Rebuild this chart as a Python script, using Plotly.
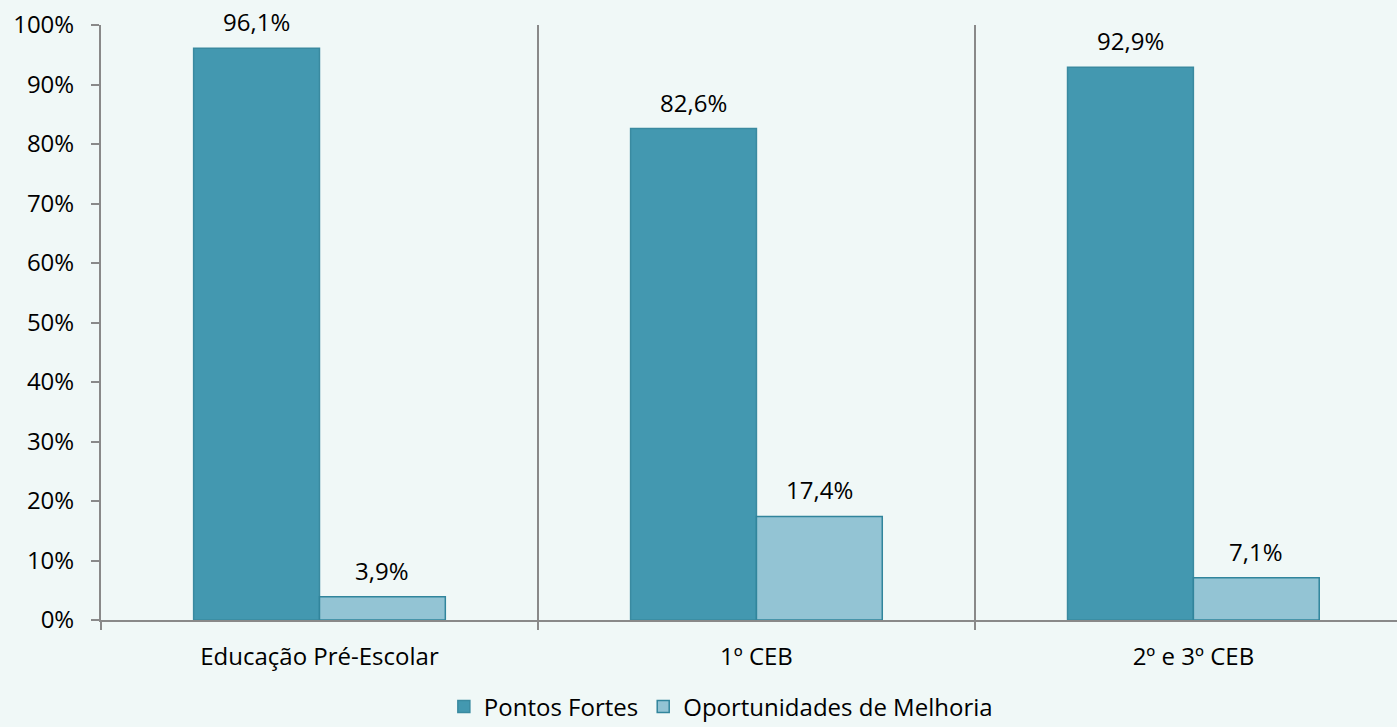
import plotly.graph_objects as go

categories = ["Educação Pré-Escolar", "1º CEB", "2º e 3º CEB"]
pontos_fortes = [96.1, 82.6, 92.9]
oportunidades = [3.9, 17.4, 7.1]
series_names = ["Pontos Fortes", "Oportunidades de Melhoria"]

FONT = "Open Sans"
FS = 24
BG = "#F0F8F7"
DARK = "#4398B0"
DARK_LINE = "#3A8AA0"
LIGHT = "#93C4D4"
LIGHT_LINE = "#31859C"
AXIS = "#898989"

xpos = list(range(len(categories)))
bw = 0.288

fig = go.Figure()
fig.add_trace(go.Bar(
    x=xpos, y=[v / 100 for v in pontos_fortes], name=series_names[0],
    width=bw, offset=-bw,
    marker=dict(color=DARK, line=dict(color=DARK_LINE, width=1.5)),
))
fig.add_trace(go.Bar(
    x=xpos, y=[v / 100 for v in oportunidades], name=series_names[1],
    width=bw, offset=0,
    marker=dict(color=LIGHT, line=dict(color=LIGHT_LINE, width=1.5)),
))

def fmt(v):
    return f"{v:.1f}".replace(".", ",") + "%"

for i, v in enumerate(pontos_fortes):
    fig.add_annotation(x=i - bw / 2, y=v / 100, text=fmt(v), showarrow=False,
                       yanchor="bottom", yshift=8, font=dict(family=FONT, size=FS, color="#000"))
for i, v in enumerate(oportunidades):
    fig.add_annotation(x=i + bw / 2, y=v / 100, text=fmt(v), showarrow=False,
                       yanchor="bottom", yshift=8, font=dict(family=FONT, size=FS, color="#000"))

fig.update_layout(
    width=1397, height=727,
    margin=dict(l=101, r=0, t=25, b=107, autoexpand=False),
    paper_bgcolor=BG, plot_bgcolor=BG,
    separators=",.",
    barmode="overlay",
    showlegend=True,
    legend=dict(orientation="h", xref="container", x=0.516, xanchor="center",
                yref="paper", y=-0.146, yanchor="middle",
                font=dict(family=FONT, size=FS, color="#000"),
                traceorder="normal", bgcolor="rgba(0,0,0,0)"),
    font=dict(family=FONT, size=FS, color="#000"),
)

fig.update_xaxes(
    range=[-0.5, 2.466],
    tickmode="array", tickvals=xpos, ticktext=categories,
    ticks="", showgrid=False, zeroline=False,
    showline=True, linecolor=AXIS, linewidth=2,
    ticklabelstandoff=14,
    tickfont=dict(family=FONT, size=FS, color="#000"),
    minor=dict(tickmode="array", tickvals=[-0.5, 0.5, 1.5, 2.5],
               ticks="outside", ticklen=8, tickcolor=AXIS, tickwidth=2,
               showgrid=True, gridcolor=AXIS, gridwidth=1.5),
    fixedrange=True,
)
fig.update_yaxes(
    range=[0, 1], tickmode="array",
    tickvals=[i / 10 for i in range(11)], tickformat=".0%",
    ticks="outside", ticklen=8, tickcolor=AXIS, tickwidth=2,
    showgrid=False, zeroline=False,
    showline=True, linecolor=AXIS, linewidth=2,
    ticklabelstandoff=12,
    tickfont=dict(family=FONT, size=FS, color="#000"),
    fixedrange=True,
)

fig.write_html(
    "out.html",
    config={"displayModeBar": False},
    post_script="document.body.style.margin='0';document.body.style.background='" + BG + "';",
)
